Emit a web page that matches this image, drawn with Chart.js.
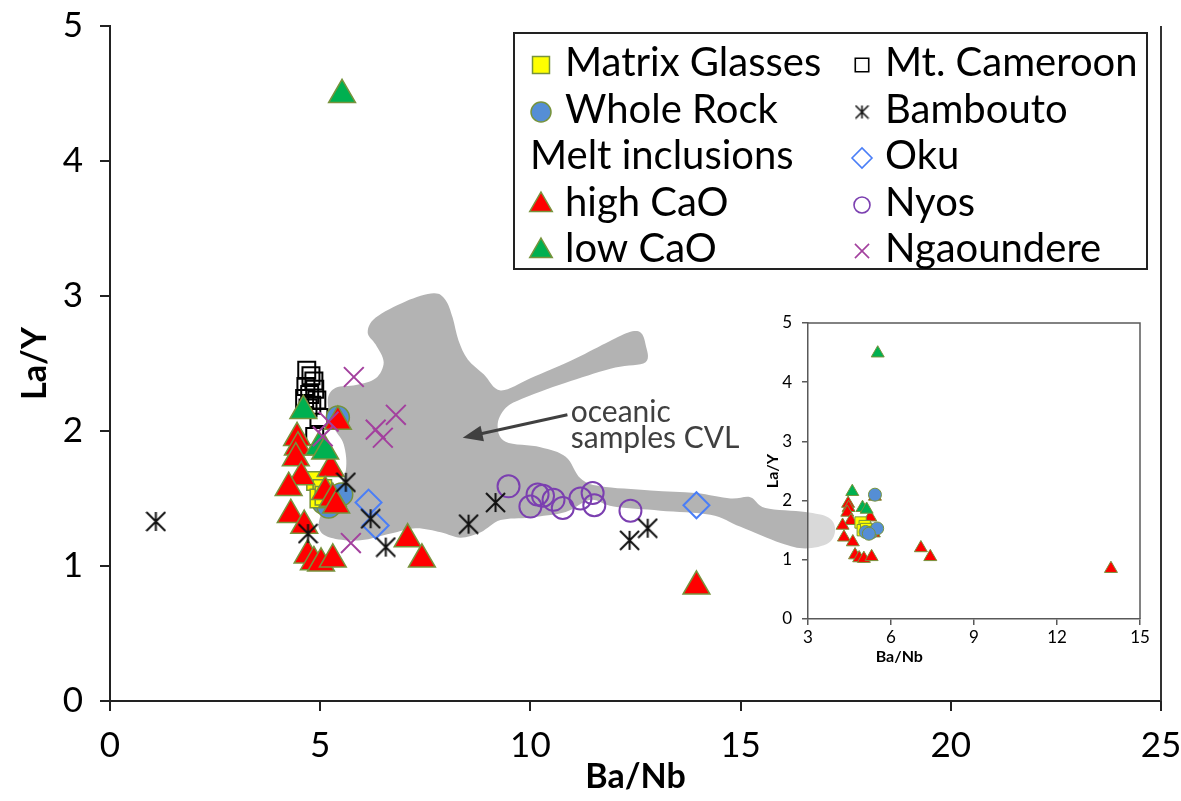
<!DOCTYPE html>
<html>
<head>
<meta charset="utf-8">
<script src="https://cdn.jsdelivr.net/npm/chart.js@4.4.1/dist/chart.umd.min.js"></script>
<style>
  html, body { margin: 0; padding: 0; background: #fff; }
  #wrap { position: relative; width: 1181px; height: 801px; }
  #main { position: absolute; left: 0; top: 0; }
  #inset { position: absolute; left: 740px; top: 310px; }
</style>
</head>
<body>
<div id="wrap">
  <canvas id="main" width="1181" height="801"></canvas>
  <canvas id="inset" width="420" height="360"></canvas>
</div>
<script>
// values, [Ba/Nb, La/Y]
const matrixGlasses = [[4.90,1.63],[5.05,1.57],[4.98,1.50],[5.10,1.52]];
const wholeRock = [[5.42,2.10],[5.08,1.47],[5.28,1.46],[5.50,1.53],[5.20,1.44]];
const highCaO = [[4.45,1.95],[4.47,1.88],[4.42,1.80],[4.55,1.66],[4.25,1.58],[4.30,1.38],
  [4.62,1.30],[4.70,1.08],[4.85,1.03],[5.02,1.02],[5.30,1.05],[5.25,1.72],[5.12,1.55],
  [5.30,1.50],[5.38,1.45],[5.42,2.07],[7.08,1.20],[7.42,1.05],[13.95,0.85]];
const lowCaO = [[4.60,2.15],[4.97,1.88],[5.12,1.85],[5.52,4.49]];
const mtCameroon = [[4.68,2.45],[4.78,2.41],[4.85,2.37],[4.66,2.33],[4.87,2.31],[4.75,2.27],
  [4.63,2.24],[4.92,2.23],[4.80,2.19],[4.71,2.17],[4.97,2.10],[4.87,1.96]];
const bambouto = [[1.09,1.33],[5.61,1.62],[6.20,1.35],[4.71,1.24],[6.56,1.14],[8.53,1.31],
  [9.17,1.47],[12.36,1.19],[12.79,1.28]];
const oku = [[6.15,1.47],[6.32,1.30],[13.95,1.45]];
const nyos = [[9.48,1.59],[10.00,1.44],[10.17,1.53],[10.30,1.52],[10.55,1.49],[10.77,1.43],
  [11.19,1.50],[11.48,1.54],[11.52,1.45],[12.38,1.41]];
const ngaoundere = [[5.80,2.40],[6.80,2.12],[6.32,2.01],[6.49,1.95],[5.20,2.07],[5.06,1.96],[5.73,1.17]];

// outline of the "oceanic samples CVL" field
const cvlField = [[12.74,2.64],[12.74,2.51],[12.02,2.47],[10.96,2.37],[9.89,2.25],[9.41,2.17],
  [9.22,2.04],[9.41,1.92],[10.24,1.88],[10.84,1.81],[11.19,1.65],[11.67,1.59],[12.86,1.56],
  [13.93,1.54],[14.76,1.50],[15.23,1.51],[15.59,1.43],[16.54,1.40],[17.09,1.36],[17.25,1.27],
  [17.09,1.17],[16.54,1.13],[15.95,1.17],[15.00,1.29],[14.28,1.38],[13.09,1.41],[11.98,1.44],
  [11.43,1.49],[10.84,1.40],[10.00,1.36],[9.29,1.34],[8.82,1.25],[8.34,1.21],[7.87,1.25],
  [7.27,1.28],[6.68,1.24],[5.96,1.19],[5.25,1.21],[4.97,1.28],[5.06,1.41],[5.37,1.53],
  [5.61,1.71],[5.56,1.90],[5.30,2.04],[5.18,2.23],[5.37,2.32],[5.85,2.34],[6.32,2.39],
  [6.51,2.51],[6.32,2.64],[6.13,2.73],[6.32,2.84],[7.03,2.96],[7.70,3.02],[7.98,2.97],
  [8.15,2.84],[8.29,2.67],[8.51,2.53],[8.89,2.42],[9.29,2.30],[10.00,2.39],[10.96,2.52],
  [11.79,2.65],[12.33,2.73],[12.62,2.73]];

const mainXTicks = [0, 5, 10, 15, 20, 25];
const mainYTicks = [0, 1, 2, 3, 4, 5];
const insetXTicks = [3, 6, 9, 12, 15];
const insetYTicks = [0, 1, 2, 3, 4, 5];

const legendLeft = ['Matrix Glasses', 'Whole Rock', 'Melt inclusions', 'high CaO', 'low CaO'];
const legendRight = ['Mt. Cameroon', 'Bambouto', 'Oku', 'Nyos', 'Ngaoundere'];

const FONT = 'Lato, "Open Sans", sans-serif';
const OLIVE = '#77933c';

function toPts(a) { return a.map(p => ({x: p[0], y: p[1]})); }

function asterisk(size, lw) {
  const c = document.createElement('canvas');
  c.width = size; c.height = size;
  const g = c.getContext('2d');
  const m = size / 2, a = size / 2 - 1;
  g.strokeStyle = '#111';
  g.lineWidth = lw;
  g.beginPath();
  g.moveTo(m, m - a); g.lineTo(m, m + a);
  g.moveTo(m - a, m - a); g.lineTo(m + a, m + a);
  g.moveTo(m + a, m - a); g.lineTo(m - a, m + a);
  g.stroke();
  return c;
}
const starBig = asterisk(21, 2);
const starSmall = asterisk(15, 1.6);

function mark(ctx, style, x, y, r, fill, stroke, lw) {
  if (style instanceof HTMLCanvasElement) {
    ctx.drawImage(style, x - style.width / 2, y - style.height / 2);
    return;
  }
  ctx.save();
  ctx.fillStyle = fill; ctx.strokeStyle = stroke; ctx.lineWidth = lw;
  ctx.beginPath();
  if (style === 'rect') {
    const h = r * Math.SQRT1_2;
    ctx.rect(x - h, y - h, 2 * h, 2 * h);
  } else if (style === 'circle') {
    ctx.arc(x, y, r, 0, Math.PI * 2);
  } else if (style === 'triangle') {
    ctx.moveTo(x, y - r); ctx.lineTo(x + 0.866 * r, y + 0.5 * r); ctx.lineTo(x - 0.866 * r, y + 0.5 * r);
    ctx.closePath();
  } else if (style === 'rectRot') {
    ctx.moveTo(x - r, y); ctx.lineTo(x, y - r); ctx.lineTo(x + r, y); ctx.lineTo(x, y + r);
    ctx.closePath();
  } else if (style === 'crossRot') {
    const d = r * Math.SQRT1_2;
    ctx.moveTo(x - d, y - d); ctx.lineTo(x + d, y + d);
    ctx.moveTo(x + d, y - d); ctx.lineTo(x - d, y + d);
  }
  if (style !== 'crossRot') ctx.fill();
  ctx.stroke();
  ctx.restore();
}

// grey field, drawn through the x/y scales as a smooth closed curve
const fieldPlugin = {
  id: 'field',
  beforeDatasetsDraw(chart) {
    const {ctx, scales: {x, y}} = chart;
    const p = cvlField.map(v => [x.getPixelForValue(v[0]), y.getPixelForValue(v[1])]);
    const n = p.length;
    ctx.save();
    ctx.beginPath();
    ctx.moveTo(p[0][0], p[0][1]);
    for (let i = 0; i < n; i++) {
      const p0 = p[(i - 1 + n) % n], p1 = p[i], p2 = p[(i + 1) % n], p3 = p[(i + 2) % n];
      ctx.bezierCurveTo(p1[0] + (p2[0] - p0[0]) / 6, p1[1] + (p2[1] - p0[1]) / 6,
        p2[0] - (p3[0] - p1[0]) / 6, p2[1] - (p3[1] - p1[1]) / 6, p2[0], p2[1]);
    }
    ctx.closePath();
    ctx.fillStyle = '#b3b3b3';
    ctx.fill();
    ctx.restore();
  }
};

const decorPlugin = {
  id: 'decor',
  afterDraw(chart) {
    const {ctx, chartArea: a, scales: {x, y}} = chart;
    ctx.save();
    // right frame line
    ctx.strokeStyle = '#333'; ctx.lineWidth = 2;
    ctx.beginPath(); ctx.moveTo(a.right, a.top); ctx.lineTo(a.right, a.bottom); ctx.stroke();

    // arrow + label
    const x0 = x.getPixelForValue(10.88), y0 = y.getPixelForValue(2.12);
    const x1 = x.getPixelForValue(8.39), y1 = y.getPixelForValue(1.95);
    const ang = Math.atan2(y1 - y0, x1 - x0);
    ctx.strokeStyle = '#404040'; ctx.fillStyle = '#404040'; ctx.lineWidth = 3;
    ctx.beginPath(); ctx.moveTo(x0, y0);
    ctx.lineTo(x1 - Math.cos(ang) * 14, y1 - Math.sin(ang) * 14); ctx.stroke();
    ctx.beginPath();
    ctx.moveTo(x1, y1);
    ctx.lineTo(x1 - Math.cos(ang) * 20 - Math.sin(ang) * 8, y1 - Math.sin(ang) * 20 + Math.cos(ang) * 8);
    ctx.lineTo(x1 - Math.cos(ang) * 20 + Math.sin(ang) * 8, y1 - Math.sin(ang) * 20 - Math.cos(ang) * 8);
    ctx.closePath(); ctx.fill();
    ctx.font = '30px ' + FONT;
    ctx.textAlign = 'left'; ctx.textBaseline = 'alphabetic';
    const tx = x.getPixelForValue(10.96), ty = y.getPixelForValue(2.07);
    ctx.fillText('oceanic', tx, ty);
    ctx.fillText('samples CVL', tx, ty + 26);

    // legend box
    ctx.fillStyle = '#fff'; ctx.strokeStyle = '#222'; ctx.lineWidth = 2;
    ctx.fillRect(514, 33, 633, 236); ctx.strokeRect(514, 33, 633, 236);
    const sets = {};
    chart.data.datasets.forEach(d => { sets[d.label] = d; });
    const legR = {'Matrix Glasses': 12, 'Whole Rock': 10, 'high CaO': 13, 'low CaO': 13,
      'Mt. Cameroon': 9.5, 'Bambouto': 0, 'Oku': 10, 'Nyos': 8, 'Ngaoundere': 10};
    ctx.font = '40px ' + FONT;
    ctx.textBaseline = 'middle';
    ctx.fillStyle = '#000';
    const rows = [63, 110, 156, 203, 249];
    legendLeft.forEach((t, i) => {
      const d = sets[t];
      if (d) {
        mark(ctx, d.pointStyle === starBig ? starSmall : d.pointStyle, 541, rows[i] + 2, legR[t],
          d.backgroundColor, d.borderColor, d.borderWidth);
        ctx.fillStyle = '#000';
        ctx.fillText(t, 565, rows[i]);
      } else {
        ctx.fillStyle = '#000';
        ctx.fillText(t, 530, rows[i]);
      }
    });
    legendRight.forEach((t, i) => {
      const d = sets[t];
      mark(ctx, d.pointStyle === starBig ? starSmall : d.pointStyle, 862, rows[i] + 2, legR[t],
        d.backgroundColor, d.borderColor, Math.min(d.borderWidth, 1.6));
      ctx.fillStyle = '#000';
      ctx.fillText(t, 885, rows[i]);
    });
    ctx.restore();
  }
};

function axisTicks(list) {
  return function (s) { s.ticks = list.map(v => ({value: v})); };
}
// fixed box size, no extra label overhang padding
function fixBox(w, h) {
  return function (s) {
    if (w !== null) s.width = w;
    if (h !== null) s.height = h;
    s.paddingLeft = 0; s.paddingRight = 0; s.paddingTop = 0; s.paddingBottom = 0;
  };
}

const mainChart = new Chart(document.getElementById('main'), {
  type: 'scatter',
  data: {
    datasets: [
      {label: 'Mt. Cameroon', data: toPts(mtCameroon), pointStyle: 'rect', pointRadius: 12,
        backgroundColor: 'rgba(0,0,0,0)', borderColor: '#000', borderWidth: 2, order: 19},
      {label: 'Whole Rock', data: toPts(wholeRock), pointStyle: 'circle', pointRadius: 11.5,
        backgroundColor: '#558ed5', borderColor: OLIVE, borderWidth: 1.5, order: 18},
      {label: 'Matrix Glasses', data: toPts(matrixGlasses), pointStyle: 'rect', pointRadius: 13,
        backgroundColor: '#ffff00', borderColor: OLIVE, borderWidth: 1.5, order: 17},
      {label: 'high CaO', data: toPts(highCaO), pointStyle: 'triangle', pointRadius: 15.5,
        backgroundColor: '#ff0000', borderColor: OLIVE, borderWidth: 1.5, order: 16},
      {label: 'low CaO', data: toPts(lowCaO), pointStyle: 'triangle', pointRadius: 15.5,
        backgroundColor: '#00b050', borderColor: OLIVE, borderWidth: 1.5, order: 15},
      {label: 'Oku', data: toPts(oku), pointStyle: 'rectRot', pointRadius: 13,
        backgroundColor: 'rgba(0,0,0,0)', borderColor: '#4a7ef7', borderWidth: 2, order: 14},
      {label: 'Nyos', data: toPts(nyos), pointStyle: 'circle', pointRadius: 11,
        backgroundColor: 'rgba(0,0,0,0)', borderColor: '#7b3fb0', borderWidth: 2, order: 13},
      {label: 'Bambouto', data: toPts(bambouto), pointStyle: starBig, pointRadius: 10,
        backgroundColor: '#000', borderColor: '#000', borderWidth: 2, order: 12},
      {label: 'Ngaoundere', data: toPts(ngaoundere), pointStyle: 'crossRot', pointRadius: 14,
        backgroundColor: 'rgba(0,0,0,0)', borderColor: '#a3409e', borderWidth: 2, order: 11}
    ]
  },
  options: {
    responsive: false,
    animation: false,
    events: [],
    layout: {padding: {left: 0, right: 20, top: 26, bottom: 0}},
    plugins: {legend: {display: false}, tooltip: {enabled: false}},
    scales: {
      x: {
        type: 'linear', min: 0, max: 25,
        afterBuildTicks: axisTicks(mainXTicks),
        afterFit: fixBox(null, 100),
        ticks: {color: '#000', font: {family: FONT, size: 35}, padding: 14, maxRotation: 0},
        grid: {drawOnChartArea: false, tickLength: 10, tickColor: '#222', lineWidth: 2},
        border: {color: '#222', width: 2},
        title: {display: true, text: 'Ba/Nb', color: '#000',
          font: {family: FONT, size: 34, weight: 'bold'}, padding: {top: 0, bottom: 4}}
      },
      y: {
        type: 'linear', min: 0, max: 5,
        afterBuildTicks: axisTicks(mainYTicks),
        afterFit: fixBox(110, null),
        ticks: {color: '#000', font: {family: FONT, size: 35}, padding: 17},
        grid: {drawOnChartArea: false, tickLength: 10, tickColor: '#222', lineWidth: 2},
        border: {color: '#222', width: 2},
        title: {display: true, text: 'La/Y', color: '#000',
          font: {family: FONT, size: 34, weight: 'bold'}, padding: {top: 15, bottom: 0}}
      }
    }
  },
  plugins: [fieldPlugin, decorPlugin]
});

const insetPlugin = {
  id: 'insetFrame',
  beforeDraw(chart) {
    const {ctx, chartArea: a} = chart;
    ctx.save();
    ctx.fillStyle = 'rgba(255,255,255,0.5)';
    ctx.fillRect(a.left, a.top, a.right - a.left, a.bottom - a.top);
    ctx.restore();
  },
  afterDraw(chart) {
    const {ctx, chartArea: a, scales: {x}} = chart;
    ctx.save();
    ctx.strokeStyle = '#595959'; ctx.lineWidth = 1.5;
    ctx.beginPath();
    ctx.moveTo(a.left, a.top); ctx.lineTo(a.right, a.top); ctx.lineTo(a.right, a.bottom);
    ctx.stroke();
    ctx.fillStyle = '#000';
    ctx.font = 'bold 16px ' + FONT;
    ctx.textAlign = 'center'; ctx.textBaseline = 'middle';
    ctx.fillText('Ba/Nb', x.getPixelForValue(6.3), chart.height - 13);
    ctx.restore();
  }
};

const insetChart = new Chart(document.getElementById('inset'), {
  type: 'scatter',
  data: {
    datasets: [
      {label: 'high CaO', data: toPts(highCaO), pointStyle: 'triangle', pointRadius: 7.5,
        backgroundColor: '#ff0000', borderColor: OLIVE, borderWidth: 1, order: 4},
      {label: 'low CaO', data: toPts(lowCaO), pointStyle: 'triangle', pointRadius: 7.5,
        backgroundColor: '#00b050', borderColor: OLIVE, borderWidth: 1, order: 3},
      {label: 'Matrix Glasses', data: toPts(matrixGlasses), pointStyle: 'rect', pointRadius: 8,
        backgroundColor: '#ffff00', borderColor: OLIVE, borderWidth: 1, order: 2},
      {label: 'Whole Rock', data: toPts(wholeRock), pointStyle: 'circle', pointRadius: 6.5,
        backgroundColor: '#558ed5', borderColor: OLIVE, borderWidth: 1, order: 1}
    ]
  },
  options: {
    responsive: false,
    animation: false,
    events: [],
    layout: {padding: {left: 0, right: 20, top: 13, bottom: 0}},
    plugins: {legend: {display: false}, tooltip: {enabled: false}},
    scales: {
      x: {
        type: 'linear', min: 3, max: 15,
        afterBuildTicks: axisTicks(insetXTicks),
        afterFit: fixBox(null, 51),
        ticks: {color: '#000', font: {family: FONT, size: 17}, padding: 2, maxRotation: 0},
        grid: {drawOnChartArea: false, tickLength: 6, tickColor: '#595959', lineWidth: 1.5},
        border: {color: '#595959', width: 1.5},
        title: {display: false}
      },
      y: {
        type: 'linear', min: 0, max: 5,
        afterBuildTicks: axisTicks(insetYTicks),
        afterFit: fixBox(68, null),
        ticks: {color: '#000', font: {family: FONT, size: 17}, padding: 10},
        grid: {drawOnChartArea: false, tickLength: 6, tickColor: '#595959', lineWidth: 1.5},
        border: {color: '#595959', width: 1.5},
        title: {display: true, text: 'La/Y', color: '#000',
          font: {family: FONT, size: 16, weight: 'bold'}, padding: {top: 23, bottom: 0}}
      }
    }
  },
  plugins: [insetPlugin]
});
</script>
</body>
</html>
